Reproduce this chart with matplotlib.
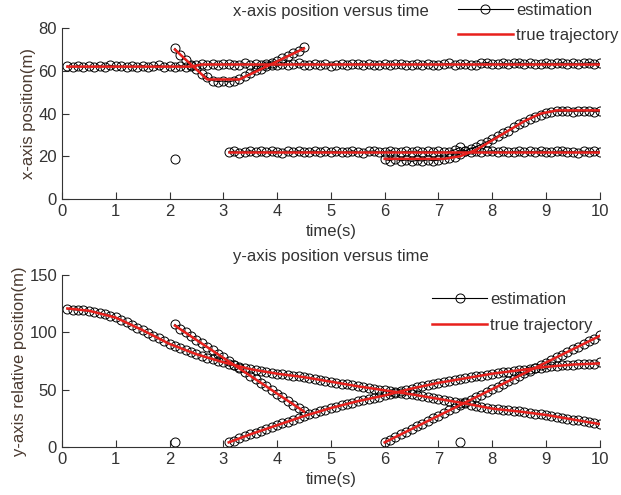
import numpy as np
import matplotlib
matplotlib.use('Agg')
import matplotlib.pyplot as plt

plt.rcParams['font.family'] = ['Liberation Sans Narrow', 'Liberation Sans', 'DejaVu Sans']

# sample times of each estimated track (0.1 s steps)
t_a = np.round(np.arange(0.1, 10.001, 0.1), 1)
t_b = np.round(np.arange(2.1, 4.501, 0.1), 1)
t_c = np.round(np.arange(3.1, 10.001, 0.1), 1)
t_d = np.round(np.arange(6.0, 10.001, 0.1), 1)

# estimated x positions (m)
est_x_a = [62.3, 61.8, 62.5, 61.6, 62.2, 61.9, 62.4, 62.0, 62.6, 62.1,
           62.3, 61.7, 62.4, 62.0, 62.5, 61.8, 62.2, 62.6, 61.9, 62.3,
           62.0, 62.5, 61.8, 62.4, 62.9, 63.2, 62.7, 63.3, 62.8, 63.1,
           63.4, 62.8, 63.0, 63.5, 62.7, 63.2, 62.9, 63.4, 63.0, 62.6,
           63.3, 62.9, 63.1, 63.6, 62.8, 63.0, 63.4, 62.7, 63.2, 62.5,
           63.0, 63.3, 62.8, 63.1, 63.4, 62.9, 63.2, 62.7, 63.0, 63.3,
           62.8, 63.1, 63.4, 62.9, 63.0, 63.2, 62.7, 63.3, 63.0, 62.8,
           63.2, 63.5, 62.9, 63.1, 63.4, 62.8, 63.0, 63.6, 63.9, 63.3,
           63.1, 63.7, 63.2, 63.5, 63.8, 63.3, 63.6, 63.1, 63.4, 63.7,
           63.2, 63.5, 63.8, 63.3, 63.6, 63.2, 63.5, 63.9, 63.4, 63.5]
est_x_b = [70.5, 67.5, 65.0, 63.0, 61.0, 58.5, 57.0, 55.5, 55.0, 55.3,
           54.8, 55.5, 56.0, 57.5, 58.8, 60.2, 61.0, 62.5, 63.8, 64.5,
           66.0, 67.0, 68.5, 69.5, 71.0]
est_x_c = [22.0, 22.4, 21.7, 22.2, 22.6, 21.9, 22.3, 21.8, 22.5, 22.1,
           21.7, 22.4, 22.0, 22.6, 21.8, 22.2, 22.5, 21.9, 22.3, 22.0,
           22.4, 21.8, 22.1, 22.6, 22.0, 21.7, 22.3, 22.5, 21.9, 22.2,
           22.6, 22.0, 21.8, 22.4, 22.1, 22.5, 21.9, 22.3, 22.0, 22.4,
           21.8, 22.2, 23.0, 24.2, 22.5, 22.0, 22.4, 21.9, 22.3, 22.6,
           22.0, 22.4, 21.8, 22.2, 22.5, 21.9, 22.3, 22.0, 22.6, 22.1,
           21.8, 22.3, 22.5, 22.0, 22.2, 21.7, 22.4, 22.1, 22.3, 22.0]
est_x_d = [18.5, 18.0, 18.8, 17.9, 18.3, 17.6, 18.1, 17.8, 18.4, 17.9,
           18.2, 18.6, 19.0, 19.8, 21.0, 22.5, 23.5, 24.5, 25.6, 26.8,
           28.0, 29.5, 30.8, 32.0, 33.5, 35.0, 36.2, 37.5, 38.6, 39.5,
           40.3, 40.8, 41.2, 41.0, 41.3, 40.9, 41.2, 41.0, 41.4, 40.8,
           41.1]

# estimated y positions (m)
est_y_a = [120.5, 120.0, 119.5, 119.2, 118.6, 118.0, 117.2, 116.0, 114.8, 113.2,
           111.0, 108.8, 106.5, 104.2, 102.0, 99.5, 97.0, 94.8, 92.4, 90.0,
           88.0, 86.4, 84.5, 82.8, 81.0, 79.6, 78.0, 76.5, 75.2, 74.0,
           72.6, 71.5, 70.2, 69.0, 68.0, 67.0, 66.1, 65.3, 64.6, 64.0,
           63.5, 62.9, 62.3, 61.8, 61.0, 60.2, 59.5, 58.7, 57.8, 57.0,
           56.2, 55.4, 54.6, 53.8, 53.0, 52.3, 51.5, 50.8, 50.2, 49.5,
           48.8, 48.0, 47.3, 46.6, 46.0, 45.2, 44.4, 43.6, 42.8, 42.0,
           41.2, 40.4, 39.6, 38.8, 38.0, 37.1, 36.2, 35.3, 34.4, 33.5,
           33.0, 32.5, 32.0, 31.5, 31.0, 30.4, 29.8, 29.2, 28.6, 28.0,
           27.2, 26.4, 25.6, 24.8, 24.0, 23.2, 22.4, 21.6, 20.8, 20.0]
est_y_b = [107.0, 103.0, 100.2, 96.5, 93.8, 90.5, 87.2, 84.5, 81.0, 78.2,
           75.0, 71.6, 68.8, 65.5, 62.4, 59.0, 56.2, 53.0, 49.6, 46.5,
           43.5, 40.2, 37.0, 34.0, 31.5]
est_y_c = [4.0, 5.5, 7.5, 9.2, 11.0, 12.6, 14.2, 15.8, 17.4, 19.0,
           20.6, 22.2, 23.8, 25.4, 27.0, 28.4, 29.8, 31.2, 32.6, 34.0,
           35.2, 36.4, 37.6, 38.8, 40.0, 41.0, 42.0, 43.0, 44.0, 45.0,
           46.2, 47.4, 48.6, 49.8, 51.0, 52.0, 53.0, 54.0, 55.0, 56.0,
           56.8, 57.6, 58.4, 59.2, 60.0, 60.8, 61.6, 62.4, 63.2, 64.0,
           64.6, 65.2, 65.8, 66.4, 67.0, 67.6, 68.2, 68.8, 69.4, 70.0,
           70.4, 70.8, 71.2, 71.6, 72.0, 72.2, 72.4, 72.6, 72.8, 73.8]
est_y_d = [4.0, 6.3, 8.7, 11.0, 13.3, 15.6, 17.9, 20.3, 22.6, 24.9,
           27.2, 29.5, 31.9, 34.2, 36.5, 38.9, 41.2, 43.5, 45.8, 48.1,
           50.5, 52.8, 55.1, 57.4, 59.8, 62.1, 64.4, 66.7, 69.0, 71.4,
           73.7, 76.0, 78.3, 80.7, 83.0, 85.3, 87.6, 90.0, 92.3, 94.6,
           97.5]

# false estimates (clutter)
clutter_x_t = [2.1]
clutter_x = [18.5]
clutter_y_t = [2.1, 7.4]
clutter_y = [4.0, 4.0]

# true trajectories (vertices)
true_x = [
    ([0.1, 2.4, 2.6, 10.0], [62.0, 62.0, 63.0, 63.0]),
    ([2.1, 2.7, 3.3, 4.5], [70.0, 56.0, 56.0, 70.5]),
    ([3.1, 10.0], [22.0, 22.0]),
    ([6.0, 7.1, 7.4, 7.7, 8.0, 8.3, 8.6, 8.9, 9.2, 10.0],
     [18.8, 18.8, 20.0, 23.0, 27.5, 32.0, 36.5, 40.0, 41.5, 41.5]),
]
true_y = [
    ([0.1, 0.5, 1.0, 1.5, 2.0, 2.5, 3.0, 3.5, 4.0, 4.5, 5.0, 5.5, 6.0, 6.5,
      7.0, 7.5, 8.0, 8.5, 9.0, 9.5, 10.0],
     [121, 119, 113, 102, 90, 81, 74, 68, 64, 61, 57, 53, 49.5, 46,
      42, 38, 33.5, 31, 28, 24, 20]),
    ([2.1, 4.5], [106, 31]),
    ([3.1, 3.5, 4.0, 4.5, 5.0, 5.5, 6.0, 6.5, 7.0, 7.5, 8.0, 8.5, 9.0, 9.5, 10.0],
     [4, 11, 19, 27, 34, 40, 45, 51, 56, 60, 64, 67, 70, 72, 73]),
    ([6.0, 10.0], [4, 97]),
]

TEXT = '#333333'
LABEL = '#4a3a30'


def style_axes(ax, yticks, ymax):
    ax.set_xlim(0, 10)
    ax.set_ylim(0, ymax)
    ax.set_xticks(range(0, 11))
    ax.set_yticks(yticks)
    for side in ('top', 'right'):
        ax.spines[side].set_visible(False)
    for side in ('left', 'bottom'):
        ax.spines[side].set_color('#333333')
        ax.spines[side].set_linewidth(0.8)
    ax.tick_params(direction='in', length=5, width=0.8, colors='#333333',
                   labelsize=12, labelcolor=TEXT)
    ax.set_xlabel('time(s)', fontsize=12, color=TEXT, labelpad=4)


def plot_tracks(ax, est, clutter_t, clutter_v, truth):
    first = True
    for t, v in est:
        ax.plot(t, v, '-o', color='black', lw=0.8, ms=6.5, mfc='none', mew=0.7,
                label='estimation' if first else None)
        first = False
    ax.plot(clutter_t, clutter_v, 'o', color='black', ms=6.5, mfc='none', mew=0.7)
    first = True
    for t, v in truth:
        ax.plot(t, v, color='#e8201c', lw=1.8,
                label='true trajectory' if first else None)
        first = False


fig = plt.figure(figsize=(6.21, 4.95), dpi=100)
ax1 = fig.add_axes([0.0998, 0.598, 0.866, 0.345])
ax2 = fig.add_axes([0.0998, 0.097, 0.866, 0.347])

plot_tracks(ax1, [(t_a, est_x_a), (t_b, est_x_b), (t_c, est_x_c), (t_d, est_x_d)],
            clutter_x_t, clutter_x, true_x)
style_axes(ax1, [0, 20, 40, 60, 80], 80)
ax1.set_ylabel('x-axis position(m)', fontsize=12, color=LABEL, labelpad=2)
ax1.set_title('x-axis position versus time', fontsize=12, color=TEXT, pad=9)
ax1.legend(loc='upper left', bbox_to_anchor=(458 / 621, 1 - 3 / 495), bbox_transform=fig.transFigure,
           frameon=False, borderpad=0, borderaxespad=0, handlelength=3.3,
           handletextpad=0.2, labelspacing=0.6, fontsize=12, labelcolor=TEXT)

plot_tracks(ax2, [(t_a, est_y_a), (t_b, est_y_b), (t_c, est_y_c), (t_d, est_y_d)],
            clutter_y_t, clutter_y, true_y)
style_axes(ax2, [0, 50, 100, 150], 150)
ax2.set_ylabel('y-axis relative position(m)', fontsize=12, color=LABEL, labelpad=2)
ax2.set_title('y-axis position versus time', fontsize=12, color=TEXT, pad=10)
ax2.legend(loc='upper left', bbox_to_anchor=(432 / 621, 1 - 292 / 495), bbox_transform=fig.transFigure,
           frameon=False, borderpad=0, borderaxespad=0, handlelength=3.3,
           handletextpad=0.2, labelspacing=0.65, fontsize=12, labelcolor=TEXT)

fig.savefig('out.png', dpi=100)
